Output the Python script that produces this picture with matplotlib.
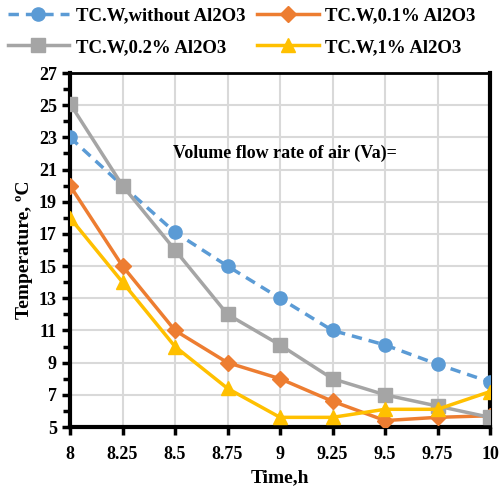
import matplotlib
matplotlib.use("Agg")
import matplotlib.pyplot as plt
from matplotlib.ticker import MultipleLocator, FixedLocator

time_h = [8, 8.25, 8.5, 8.75, 9, 9.25, 9.5, 9.75, 10]
x_tick_labels = ["8", "8.25", "8.5", "8.75", "9", "9.25", "9.5", "9.75", "10"]
tcw_without = [23.0, 20.0, 17.1, 15.0, 13.0, 11.0, 10.1, 8.9, 7.8]
tcw_01 = [20.0, 15.0, 11.0, 9.0, 8.0, 6.6, 5.4, 5.6, 5.7]
tcw_02 = [25.1, 20.0, 16.0, 12.0, 10.1, 8.0, 7.0, 6.3, 5.6]
tcw_1 = [18.0, 14.0, 10.0, 7.4, 5.6, 5.6, 6.1, 6.1, 7.2]
labels = ["TC.W,without Al2O3", "TC.W,0.1% Al2O3", "TC.W,0.2% Al2O3", "TC.W,1% Al2O3"]

plt.rcParams['font.family'] = ['Liberation Serif', 'DejaVu Serif']
plt.rcParams['font.weight'] = 'bold'

fig = plt.figure(figsize=(5.03, 4.96), dpi=100)
ax = fig.add_axes([70/503, 1-427/496, 420/503, 354/496])

blue = '#5B9BD5'; orange = '#ED7D31'; gray = '#A5A5A5'; yellow = '#FFC000'
l1, = ax.plot(time_h, tcw_without, color=blue, ls=(0, (3, 2)), lw=2.5, marker='o', ms=9.5, label=labels[0], zorder=3)
l2, = ax.plot(time_h, tcw_01, color=orange, lw=2.5, marker='D', ms=8.5, label=labels[1], zorder=3)
l3, = ax.plot(time_h, tcw_02, color=gray, lw=2.5, marker='s', ms=9.5, label=labels[2], zorder=3)
l4, = ax.plot(time_h, tcw_1, color=yellow, lw=2.5, marker='^', ms=10.5, label=labels[3], zorder=4)

ax.set_xlim(8, 10)
ax.set_ylim(5, 27)
ax.xaxis.set_major_locator(FixedLocator(time_h))
ax.set_xticklabels(x_tick_labels)
ax.set_yticks(list(range(5, 28, 2)))
ax.yaxis.set_minor_locator(MultipleLocator(1))
ax.grid(True, which='major', color='#D9D9D9', lw=1.5, zorder=0)
ax.set_axisbelow(True)
for s in ['left', 'bottom', 'right']:
    ax.spines[s].set_linewidth(3)
ax.spines['top'].set_linewidth(2)
ax.tick_params(axis='both', which='major', direction='out', length=6, width=2.5, labelsize=13)
ax.tick_params(axis='y', which='minor', direction='out', length=5, width=2.5)
ax.tick_params(axis='x', pad=8)
for t in ax.get_xticklabels() + ax.get_yticklabels():
    t.set_fontweight('bold')

ax.set_xlabel("Time,h", fontsize=14, fontweight='bold', labelpad=4)
ax.set_ylabel("Temperature, ºC", fontsize=14, fontweight='bold', labelpad=4)
ax.text(0.245, 0.774, "Volume flow rate of air (Va)=", transform=ax.transAxes,
        fontsize=13, fontweight='bold', ha='left', va='center')

fig.legend(handles=[l1, l3, l2, l4], loc='upper left', bbox_to_anchor=(0.0, 1.0), ncol=2,
           frameon=False, prop={'weight': 'bold', 'size': 13.5}, handlelength=3.3,
           columnspacing=0.6, labelspacing=0.75, handletextpad=0.35, borderaxespad=0.0)

fig.savefig("out.png", dpi=100)
